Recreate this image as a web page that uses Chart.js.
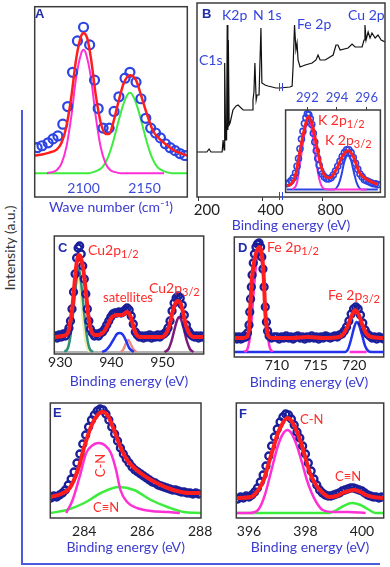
<!DOCTYPE html>
<html>
<head>
<meta charset="utf-8">
<script src="https://cdn.jsdelivr.net/npm/chart.js@4.4.1/dist/chart.umd.min.js"></script>
<style>
  body { margin: 0; background: #fff; width: 390px; height: 567px; position: relative; overflow: hidden; font-family: Lato, sans-serif; }
  canvas { position: absolute; }
  .t { position: absolute; white-space: nowrap; line-height: 1; font-size: 14px; }
  .red { color: #ff2a2a; }
  .lbl { color: #3344dd; }
  .let { font: bold 13px "Liberation Sans", Arial, sans-serif; color: #1f2ca8; }
  .s { font-size: 11px; position: relative; top: 3px; }
  .ln { position: absolute; background: #4b5be0; }
  .brk { position: absolute; width: 2px; height: 8px; border-left: 1px solid #3344dd; border-right: 1px solid #3344dd; }
</style>
</head>
<body>
<canvas id="cA" width="166" height="220" style="left:28px;top:0"></canvas>
<canvas id="cB" width="200" height="236" style="left:190px;top:0"></canvas>
<canvas id="cIn" width="106" height="112" style="left:280px;top:86px"></canvas>
<canvas id="cC" width="162" height="164" style="left:48px;top:228px"></canvas>
<canvas id="cD" width="162" height="164" style="left:228px;top:229px"></canvas>
<canvas id="cE" width="172" height="162" style="left:44px;top:396px"></canvas>
<canvas id="cF" width="160" height="162" style="left:230px;top:396px"></canvas>

<div class="ln" style="left:21px;top:110px;width:2px;height:455px"></div>
<div class="ln" style="left:21px;top:563px;width:359px;height:2px"></div>
<div class="t" style="left:-42px;top:241px;width:104px;text-align:center;font-size:14px;color:#333;transform:rotate(-90deg)">Intensity (a.u.)</div>

<div class="t let" style="left:35px;top:6px">A</div>
<div class="t let" style="left:202px;top:6px">B</div>
<div class="t let" style="left:58px;top:240px">C</div>
<div class="t let" style="left:238px;top:240px">D</div>
<div class="t let" style="left:53px;top:405px">E</div>
<div class="t let" style="left:239px;top:406px">F</div>

<div class="t lbl" style="left:222px;top:8px">K2p</div>
<div class="t lbl" style="left:253px;top:8px">N 1s</div>
<div class="t lbl" style="left:297px;top:17px">Fe 2p</div>
<div class="t lbl" style="left:348px;top:8px">Cu 2p</div>
<div class="t lbl" style="left:199px;top:53px">C1s</div>
<div class="brk" style="left:279px;top:83px"></div>
<div class="brk" style="left:279px;top:192px"></div>
<div class="t red" style="left:318px;top:113px">K 2p<span class="s">1/2</span></div>
<div class="t red" style="left:325px;top:133px">K 2p<span class="s">3/2</span></div>

<div class="t red" style="left:88px;top:243px">Cu2p<span class="s">1/2</span></div>
<div class="t red" style="left:103px;top:291px;font-size:13px">satellites</div>
<div class="t red" style="left:149px;top:281px">Cu2p<span class="s">3/2</span></div>
<div class="t red" style="left:267px;top:240px">Fe 2p<span class="s">1/2</span></div>
<div class="t red" style="left:328px;top:288px">Fe 2p<span class="s">3/2</span></div>
<div class="t red" style="left:86px;top:459px;width:28px;text-align:center;font-size:13px;transform:rotate(-90deg)">C-N</div>
<div class="t red" style="left:93px;top:501px;font-size:13px">C≡N</div>
<div class="t red" style="left:300px;top:413px;font-size:13px">C-N</div>
<div class="t red" style="left:335px;top:470px;font-size:13px">C≡N</div>

<script>
// A: IR band (intensity in arbitrary units above the component baseline)
const aDataX = [2062,2066,2071,2075,2079,2083,2087,2091,2095,2100,2105,2109,2112,2116,2121,2125,2129,2134,2138,2143,2147,2151,2155,2159,2163,2167,2171,2175,2179,2183];
const aDataY = [26,28,31,35,38,50,68,103,135,149,131,95,66,46,46,63,78,97,103,93,76,56,46,41,36,30,26,23,20,18];
const aFitX = [2060,2066,2072,2078,2082,2086,2090,2094,2098,2100,2103,2106,2110,2114,2118,2121,2124,2128,2133,2138,2143,2147,2152,2157,2164,2170,2176,2185];
const aFitY = [18,19,21,24,31,48,78,117,140,143,138,118,80,52,40,40,50,70,92,100,95,80,60,43,33,27,22,18];
const aMagX = [2070,2074,2078,2082,2086,2090,2094,2098,2100,2102,2106,2110,2114,2118,2122,2126,2130,2166];
const aMagY = [0,1,3,10,27,58,98,122,126,122,98,58,27,10,3,1,0,0];
const aGrnX = [2060,2104,2108,2112,2116,2120,2124,2128,2132,2136,2138,2140,2144,2148,2152,2156,2160,2164,2168,2172,2185];
const aGrnY = [0,0,1,3,7,16,31,50,68,80,82,80,68,50,31,16,7,3,1,0,0];
const aTicks = [2100, 2150];

// B: survey spectrum, binding energy (eV); the axis is broken between 460 and 672 eV
const bX = [194,225,232,238,273,276,279,281,284,287,289,291,292.5,295,298,307,317,323,339,367,370,373,376,380,383,389,395,398,408,417,430,442,455,
            698,705,708,712.6,717,720.5,723.7,730,746,768,780,786.5,793,809,834,843,849,856,881,893.5,903,925,931,934,937.5,944,950,956,966,975,985,997];
const bY = [45,45,48,45,45,57,47,134,57,57,172,67,157,72,74,87,91,92,87,87,97,105,134,97,102,102,169,114,112,111,110,109,109,
            110,111,130,172,147,154,137,130,132,134,137,142,137,137,142,152,152,147,149,153,150,150,157,172,157,165,159,164,159,162,157,155];
const bTicks = [200, 400, 800];
const breakFrom = 460, breakTo = 672;

// B inset: K 2p
const iDataX = [290.6,290.75,290.9,291.05,291.2,291.3,291.4,291.5,291.6,291.7,291.8,291.9,292.0,292.1,292.2,292.3,292.4,292.5,292.6,292.7,292.8,292.9,293.0,293.15,293.3,293.45,293.6,293.75,293.9,294.05,294.2,294.35,294.5,294.65,294.8,294.95,295.1,295.25,295.4,295.55,295.7,295.85,296.0,296.15,296.3,296.45,296.6,296.75];
const iDataY = [9,10,12,15,20,27,35,45,55,63,71,77,81,80,76,70,61,52,43,35,28,22,19,16,14,14,15,18,22,27,32,37,41,44,44,41,36,30,24,19,16,13,12,11,10,9,9,8];
const iFitX = [290.6,290.87,291.2,291.53,291.87,292.07,292.33,292.73,293.07,293.53,294.0,294.4,294.73,295.07,295.53,296.07,296.75];
const iFitY = [7,8,18,45,70,78,70,40,20,15,25,38,43,38,20,13,8];
const iMagX = [291.0,291.3,291.5,291.7,291.9,292.07,292.25,292.45,292.65,292.85,293.1,293.4,296.0];
const iMagY = [3,10,30,50,68,76,68,48,26,11,4,3,3];
const iBluX = [290.6,293.8,294.1,294.3,294.5,294.73,294.95,295.15,295.35,295.65,296.75];
const iBluY = [3,3,8,18,32,38,33,20,9,3,3];
const iTicks = [292, 294, 296];

// C: Cu 2p
const cDataX = [929.0,929.4,929.8,930.2,930.6,931.0,931.4,931.7,932.0,932.3,932.6,932.9,933.2,933.5,933.8,934.1,934.4,934.7,935.0,935.3,935.6,935.9,
  936.3,936.7,937.1,937.5,937.9,938.3,938.7,939.1,939.5,939.9,940.3,940.7,941.1,941.5,941.9,942.3,942.7,943.1,943.5,943.9,944.3,944.7,945.1,945.5,945.9,
  946.3,946.7,947.1,947.5,947.9,948.3,948.7,949.1,949.5,949.9,950.3,950.7,951.1,951.5,951.9,952.3,952.7,953.1,953.5,953.9,954.3,954.7,955.1,955.5,955.9,
  956.3,956.7,957.1,957.5,957.9];
const cDataY = [18,16,19,17,20,18,22,26,33,45,62,80,96,106,108,100,88,75,60,45,33,25,
  21,18,20,18,21,22,25,29,33,37,40,41,41,42,41,42,44,46,44,38,30,22,19,17,18,
  16,18,17,19,16,18,17,19,17,19,20,22,26,33,43,51,56,58,56,49,39,29,23,20,18,
  17,18,16,18,17];
const cFitX = [928.9,930.5,931.5,931.8,932.1,932.4,932.7,933.0,933.3,933.6,933.9,934.2,934.5,934.8,935.1,935.4,935.7,936.0,936.4,936.8,937.5,938.0,938.5,939.0,939.5,
  940.0,940.5,941.0,941.5,942.0,942.5,943.0,943.4,943.8,944.2,944.6,945.0,945.5,950.0,950.5,951.0,951.5,952.0,952.5,953.0,953.4,953.8,954.2,954.6,955.0,955.5,956.0,958.1];
const cFitY = [17,18,21,28,36,48,65,82,94,99,98,93,85,72,58,43,31,24,20,19,19,20,22,26,31,
  36,38,39,39,39,40,42,41,37,30,23,19,17,17,19,23,31,42,50,53,52,47,38,29,23,19,17,17];
const cTealX = [930.8,931.5,932.0,932.5,933.0,933.6,934.2,934.7,935.2,935.7,936.4];
const cTealY = [2,6,18,40,66,85,66,40,18,6,2];
const cYelX = [930.8,931.6,932.2,932.8,933.3,933.8,934.3,934.9,935.6];
const cYelY = [2,10,32,62,78,68,38,13,2];
const cBluX = [938.2,939.0,939.8,940.5,941.1,941.7,942.3,942.9,943.5,944.4];
const cBluY = [2,4,9,15,20,21,19,13,6,2];
const cSalX = [941.9,942.4,942.8,943.3,943.8,944.3,944.9];
const cSalY = [2,5,10,14,10,5,2];
const cPurX = [950.4,951.2,951.8,952.4,952.9,953.3,953.7,954.2,954.8,955.4,956.1];
const cPurY = [2,5,13,25,34,37,34,25,13,5,2];
const cBaseX = [928.9, 958.1];
const cBaseY = [2, 2];
const cTicks = [930, 940, 950];

// D: Fe 2p
const dDataX = [704.6,704.85,705.1,705.35,705.6,705.8,706.0,706.2,706.4,706.5,706.6,706.7,706.8,706.95,707.1,707.3,707.5,707.7,707.9,708.05,708.2,708.35,708.5,708.65,708.8,709.0,709.3,709.65,
  710.0,710.3,710.6,710.9,711.2,711.5,711.8,712.1,712.4,712.7,713.0,713.3,713.6,713.9,714.2,714.5,714.8,715.1,715.4,715.7,716.0,716.3,716.6,716.9,717.2,717.5,717.8,
  718.1,718.4,718.7,719.0,719.3,719.6,719.9,720.2,720.5,720.8,721.1,721.4,721.7,722.0,722.3,722.6,722.9,723.2,723.5,723.8];
const dDataY = [20,18,20,18,19,21,20,24,32,45,58,70,82,94,103,110,113,114,110,100,88,70,50,35,26,21,19,20,
  20,18,20,19,21,19,20,18,20,21,19,20,18,20,19,21,19,20,18,20,19,21,20,19,20,21,20,
  22,23,26,30,36,43,48,50,48,42,34,27,23,21,19,20,18,20,19,18];
const dFitX = [704.5,705.6,706.1,706.4,706.6,706.8,707.1,707.4,707.8,708.1,708.3,708.5,708.7,708.9,709.4,712.0,714.0,716.0,718.0,718.6,719.1,719.6,720.1,720.6,721.1,721.6,722.2,723.8];
const dFitY = [19,19,20,28,55,80,97,106,110,100,80,45,28,21,19,19,20,19,20,23,30,40,47,42,31,23,20,19];
const dMagX = [705.8,706.2,706.6,707.0,707.4,707.8,708.2,708.6,709.0,709.4];
const dMagY = [5,8,25,65,98,105,85,40,12,5];
const dMag2X = [719.4, 721.6];
const dMag2Y = [5, 5];
const dBluX = [704.5,718.8,719.2,719.6,720.0,720.3,720.6,721.0,721.4,721.8,722.2,723.8];
const dBluY = [5,5,8,18,30,35,32,22,11,6,5,5];
const dTicks = [710, 715, 720];

// E: C 1s
const eDataX = [282.85,282.95,283.05,283.15,283.25,283.35,283.45,283.55,283.65,283.75,283.85,283.95,284.05,284.15,284.25,284.35,284.45,284.55,284.65,284.75,
  284.85,284.95,285.05,285.15,285.25,285.35,285.45,285.55,285.65,285.75,285.85,285.95,286.05,286.15,286.25,286.35,286.45,286.55,286.65,286.75,
  286.85,286.95,287.05,287.15,287.25,287.35,287.45,287.55,287.65,287.75,287.85,287.95];
const eDataY = [20,22,21,23,25,28,33,39,46,55,64,74,83,91,98,103,107,109,108,104,
  98,91,84,77,70,64,59,55,51,48,46,44,42,40,38,36,35,33,32,31,
  30,29,28,28,27,26,26,25,25,24,25,24];
const eFitX = [282.83,283.2,283.5,283.78,284.0,284.23,284.46,284.63,284.8,285.03,285.25,285.48,285.94,286.5,287.07,287.65,288.03];
const eFitY = [21,24,30,48,71,91,103,106,103,88,71,58,45,35,28,25,25];
const eMagX = [283.38,283.6,283.84,284.07,284.3,284.5,284.7,284.92,285.1,285.25,285.48,285.82,286.3,286.9,287.3];
const eMagY = [5,18,41,65,73,75,73,65,48,28,16,10,7,6,5];
const eGrnX = [282.83,283.4,284.0,284.58,285.2,285.72,286.3,286.87,287.43,288.03];
const eGrnY = [5,8,15,25,31,28,18,11,6,5];
const eTicks = [284, 286, 288];

// F: N 1s
const fDataX = [395.6,395.7,395.8,395.9,396.0,396.1,396.2,396.3,396.4,396.5,396.6,396.7,396.8,396.9,397.0,397.1,397.2,397.3,397.4,397.5,
  397.6,397.7,397.8,397.9,398.0,398.1,398.2,398.3,398.4,398.5,398.6,398.7,398.8,398.9,399.0,399.1,399.2,399.3,399.4,399.5,
  399.6,399.7,399.8,399.9,400.0,400.1,400.2,400.3,400.4,400.5,400.6,400.7];
const fDataY = [19,21,20,22,21,23,26,30,36,43,52,62,72,81,89,96,101,104,103,99,
  93,86,80,72,64,55,47,39,33,28,25,23,22,22,23,24,25,27,28,29,
  30,30,29,28,27,25,23,22,21,21,20,21];
const fFitX = [395.55,396.07,396.3,396.52,396.7,396.87,397.0,397.12,397.36,397.55,397.81,398.0,398.16,398.35,398.51,398.85,399.1,399.31,399.52,399.72,399.95,400.14,400.4,400.77];
const fFitY = [20,21,27,38,55,71,83,91,100,95,78,60,45,34,28,21,22,25,27,28,26,23,21,20];
const fMagX = [395.55,396.0,396.32,396.55,396.77,397.01,397.2,397.36,397.52,397.71,397.88,398.05,398.22,398.4,398.61,399.0,399.5,400.13];
const fMagY = [5,5,8,22,45,71,84,88,84,71,55,38,25,15,8,6,6,5];
const fGrnX = [395.55,398.85,399.1,399.35,399.65,399.95,400.2,400.48,400.77];
const fGrnY = [5,5,8,12,15,13,9,5,5];
const fTicks = [396, 398, 400];

const RED = '#ff1e1e', MAG = '#ff2fd6', GRN = '#3ded3d', NAVY = '#1a1f99', BLUE = '#2d44e4';
const TITLE = '#3b3bd0';

// draws the panel box; "fill" whitens the inset before its curves
const framePlugin = {
  id: 'frame',
  beforeDatasetsDraw(chart, args, opts) {
    if (!opts.fill) return;
    const a = chart.chartArea, ctx = chart.ctx;
    ctx.save();
    ctx.fillStyle = '#fff';
    ctx.fillRect(a.left, a.top, a.right - a.left, a.bottom - a.top);
    ctx.restore();
  },
  afterDraw(chart, args, opts) {
    const a = chart.chartArea, ctx = chart.ctx;
    ctx.save();
    ctx.strokeStyle = '#3c3c3c';
    ctx.lineWidth = 1.5;
    ctx.strokeRect(a.left, a.top, a.right - a.left, a.bottom + (opts.extra || 0) - a.top);
    ctx.restore();
  }
};

function line(xs, ys, color, width) {
  return {
    data: xs.map((x, i) => ({x: x, y: ys[i]})),
    showLine: true, borderColor: color, borderWidth: width, pointRadius: 0,
    cubicInterpolationMode: 'monotone', fill: false
  };
}

function dots(xs, ys, color, r, bw) {
  return {
    data: xs.map((x, i) => ({x: x, y: ys[i]})),
    showLine: false, pointRadius: r, pointBorderWidth: bw,
    pointBorderColor: color, borderColor: color, pointBackgroundColor: 'rgba(0,0,0,0)'
  };
}

function panel(id, p) {
  return new Chart(document.getElementById(id), {
    type: 'scatter',
    data: {datasets: p.sets},
    options: {
      responsive: false, animation: false, devicePixelRatio: 1, events: [],
      layout: {padding: p.pad},
      plugins: {
        legend: {display: false}, tooltip: {enabled: false},
        frame: {extra: p.extra || 0, fill: !!p.fill}
      },
      scales: {
        x: {
          type: 'linear', position: p.pos || 'bottom', min: p.xmin, max: p.xmax,
          afterBuildTicks: s => { s.ticks = p.ticks.map(v => ({value: v})); },
          afterFit: s => { s.height = p.axisH; s.paddingLeft = 0; s.paddingRight = 0; },
          grid: {display: !!p.tl, drawOnChartArea: false, drawTicks: !!p.tl, tickLength: p.tl || 0, color: '#333'},
          border: {display: false},
          ticks: {
            autoSkip: false, maxRotation: 0, padding: p.tp || 0, labelOffset: p.lo || 0,
            color: p.tc || '#222', font: {family: 'Lato', size: p.tf || 14},
            callback: p.label || (v => String(v))
          },
          title: p.title
            ? {display: true, text: p.title, color: TITLE, font: {family: 'Lato', size: 14}, padding: {top: 0, bottom: p.tpb || 2}}
            : {display: false}
        },
        y: {display: false, min: p.ymin || 0, max: p.ymax}
      }
    },
    plugins: [framePlugin]
  });
}

// A
panel('cA', {
  pad: {left: 4, right: 5, top: 3, bottom: 0}, axisH: 40, extra: 17,
  xmin: 2060, xmax: 2185, ymin: -7, ymax: 170, ticks: aTicks, tf: 14, tc: '#3b4bd8',
  title: 'Wave number (cm⁻¹)', tpb: 4,
  sets: [line(aFitX, aFitY, RED, 2.5), dots(aDataX, aDataY, BLUE, 4.5, 2.2),
         line(aMagX, aMagY, MAG, 2), line(aGrnX, aGrnY, GRN, 2)]
});

// B survey, with the broken energy axis
const cut = e => e > breakFrom ? e - (breakTo - breakFrom) : e;
panel('cB', {
  pad: {left: 7, right: 5, top: 3, bottom: 0}, axisH: 39,
  xmin: cut(194), xmax: cut(997), ymax: 194, ticks: bTicks.map(cut), tl: 4, lo: 8, tf: 15,
  label: v => String(v > breakFrom ? v + (breakTo - breakFrom) : v),
  title: 'Binding energy (eV)', tpb: 2,
  sets: [Object.assign(line(bX.map(cut), bY, '#111', 1.2), {cubicInterpolationMode: 'default', tension: 0})]
});

// B inset
panel('cIn', {
  pad: {left: 5, right: 5, top: 0, bottom: 3}, axisH: 24, pos: 'top', fill: true,
  xmin: 290.53, xmax: 296.93, ymax: 85, ticks: iTicks, tl: 3, tp: 1, tf: 13, tc: '#3b4bd8',
  sets: [line(iFitX, iFitY, RED, 3), dots(iDataX, iDataY, BLUE, 3, 1.6),
         line(iMagX, iMagY, MAG, 2), line(iBluX, iBluY, BLUE, 2)]
});

// C
panel('cC', {
  pad: {left: 6, right: 5, top: 8, bottom: 0}, axisH: 38,
  xmin: 928.83, xmax: 958.1, ymax: 118, ticks: cTicks,
  title: 'Binding energy (eV)', tpb: 2,
  sets: [line(cFitX, cFitY, RED, 4), dots(cDataX, cDataY, NAVY, 3.5, 2.3),
         line(cTealX, cTealY, '#2f8f7f', 2.5), line(cYelX, cYelY, '#eef0a8', 2),
         line(cBluX, cBluY, '#2233ee', 2.5), line(cSalX, cSalY, '#f08a80', 2.5),
         line(cPurX, cPurY, '#7a1a7a', 2.5), line(cBaseX, cBaseY, '#666', 1)]
});

// D
panel('cD', {
  pad: {left: 5, right: 3, top: 8, bottom: 0}, axisH: 36,
  xmin: 704.5, xmax: 723.8, ymax: 120, ticks: dTicks,
  title: 'Binding energy (eV)', tpb: 2,
  sets: [line(dFitX, dFitY, RED, 4), dots(dDataX, dDataY, NAVY, 3.5, 2.3),
         line(dMagX, dMagY, MAG, 2.5), line(dMag2X, dMag2Y, MAG, 2.5),
         line(dBluX, dBluY, '#2233ee', 2.5)]
});

// E
panel('cE', {
  pad: {left: 5, right: 15, top: 7, bottom: 0}, axisH: 40,
  xmin: 282.83, xmax: 288.03, ymax: 115, ticks: eTicks, tp: 5,
  title: 'Binding energy (eV)', tpb: 2,
  sets: [line(eFitX, eFitY, RED, 4), dots(eDataX, eDataY, NAVY, 3.5, 2.3),
         line(eMagX, eMagY, MAG, 2.5), line(eGrnX, eGrnY, GRN, 2.5)]
});

// F
panel('cF', {
  pad: {left: 5, right: 5, top: 7, bottom: 0}, axisH: 40,
  xmin: 395.55, xmax: 400.77, ymax: 115, ticks: fTicks, tp: 5,
  title: 'Binding energy (eV)', tpb: 2,
  sets: [line(fFitX, fFitY, RED, 4), dots(fDataX, fDataY, NAVY, 3.5, 2.3),
         line(fMagX, fMagY, MAG, 2.5), line(fGrnX, fGrnY, GRN, 2.5)]
});
</script>
</body>
</html>
